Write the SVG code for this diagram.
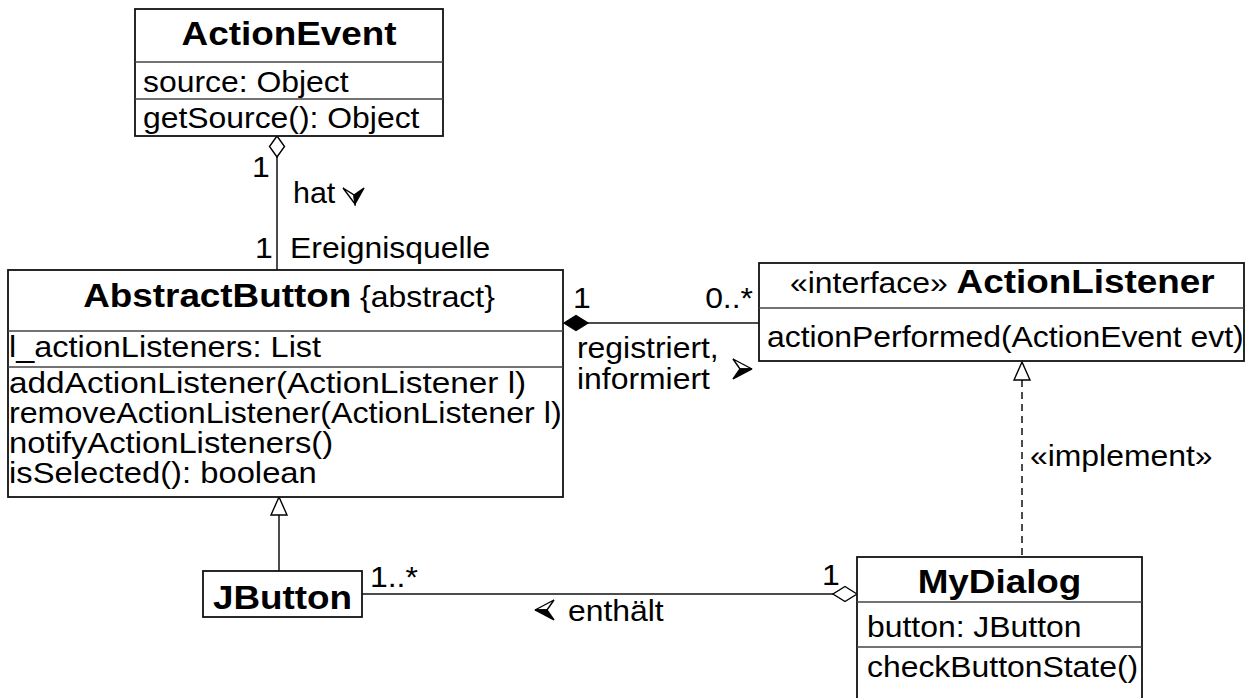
<svg xmlns="http://www.w3.org/2000/svg" width="1248" height="698" viewBox="0 0 1248 698">
<style>
.t { font-family: "Liberation Sans", Arial, Helvetica, sans-serif; font-size: 29px; fill: #000; }
.b { font-weight: bold; font-size: 33.5px; }
.box { fill: #fff; stroke: #111; stroke-width: 1.8; }
.div { stroke: #444; stroke-width: 1.6; fill: none; }
.ln { stroke: #111; stroke-width: 1.5; fill: none; }
.dash { stroke: #111; stroke-width: 1.5; fill: none; stroke-dasharray: 7 5; }
.hw { fill: #fff; stroke: #000; stroke-width: 1.4; stroke-linejoin: miter; }
.hb { fill: #000; stroke: #000; stroke-width: 1.4; stroke-linejoin: miter; }
</style>
<rect width="1248" height="698" fill="#fff"/>

<g id="connectors">
  <!-- ActionEvent - AbstractButton aggregation -->
  <line class="ln" x1="277" y1="157" x2="277" y2="270"/>
  <polygon class="hw" points="277,136 284.5,146.5 277,157 269.5,146.5"/>
  <text class="t" transform="translate(252,177) scale(1.1 1)">1</text>
  <text class="t" transform="translate(293,203) scale(1.05 1)">hat</text>
  <polygon class="hw" points="343,188 355,204 354,195"/>
  <polygon class="hb" points="354,195 355,204 364,188"/>
  <text class="t" transform="translate(255,258) scale(1.1 1)">1</text>
  <text class="t" transform="translate(290,258) scale(1.1 1)">Ereignisquelle</text>

  <!-- AbstractButton - ActionListener composition -->
  <line class="ln" x1="588" y1="323" x2="759" y2="323"/>
  <polygon class="hb" points="564,323 576,315.5 588,323 576,330.5"/>
  <text class="t" transform="translate(573,308) scale(1.1 1)">1</text>
  <text class="t" text-anchor="end" transform="translate(753,308) scale(1.1 1)">0..*</text>
  <text class="t" transform="translate(577,358) scale(1.1 1)">registriert,</text>
  <text class="t" transform="translate(577,389) scale(1.1 1)">informiert</text>
  <polygon class="hw" points="733,359 752,369 740,369"/>
  <polygon class="hb" points="740,369 752,369 733,379"/>

  <!-- Generalization JButton -> AbstractButton -->
  <line class="ln" x1="279" y1="515" x2="279" y2="571"/>
  <polygon class="hw" points="279,497 271,515 287,515"/>

  <!-- Realization MyDialog -> ActionListener -->
  <line class="dash" x1="1022" y1="380" x2="1022" y2="557"/>
  <polygon class="hw" points="1022,362 1014,380 1030,380"/>
  <text class="t" transform="translate(1030,466) scale(1.1 1)">«implement»</text>

  <!-- MyDialog - JButton aggregation -->
  <line class="ln" x1="362" y1="594" x2="833" y2="594"/>
  <polygon class="hw" points="857,594 845,586.5 833,594 845,601.5"/>
  <text class="t" transform="translate(370,587) scale(1.1 1)">1..*</text>
  <text class="t" transform="translate(822,585) scale(1.1 1)">1</text>
  <polygon class="hw" points="554,600 535,610 547,610"/>
  <polygon class="hb" points="547,610 535,610 554,620"/>
  <text class="t" transform="translate(568,621) scale(1.1 1)">enthält</text>
</g>

<g id="ActionEvent">
  <rect class="box" x="135" y="9" width="308" height="127"/>
  <line class="div" x1="135" y1="62" x2="443" y2="62"/>
  <line class="div" x1="135" y1="99" x2="443" y2="99"/>
  <text class="t b" text-anchor="middle" transform="translate(289,45) scale(1.1 1)">ActionEvent</text>
  <text class="t" transform="translate(143,92) scale(1.1 1)">source: Object</text>
  <text class="t" transform="translate(143,128) scale(1.1 1)">getSource(): Object</text>
</g>

<g id="AbstractButton">
  <rect class="box" x="8" y="270" width="555" height="227"/>
  <line class="div" x1="8" y1="331" x2="563" y2="331"/>
  <line class="div" x1="8" y1="367" x2="563" y2="367"/>
  <text class="t" text-anchor="middle" transform="translate(289,307) scale(1.1 1)"><tspan font-weight="bold" font-size="33.5">AbstractButton</tspan> {abstract}</text>
  <text class="t" transform="translate(9,357) scale(1.12 1)">l_actionListeners: List</text>
  <text class="t" transform="translate(9,393) scale(1.15 1)">addActionListener(ActionListener l)</text>
  <text class="t" transform="translate(9,423) scale(1.11 1)">removeActionListener(ActionListener l)</text>
  <text class="t" transform="translate(9,453) scale(1.13 1)">notifyActionListeners()</text>
  <text class="t" transform="translate(9,483) scale(1.13 1)">isSelected(): boolean</text>
</g>

<g id="ActionListener">
  <rect class="box" x="759" y="263" width="485" height="98"/>
  <line class="div" x1="759" y1="308" x2="1244" y2="308"/>
  <text class="t" transform="translate(790,293) scale(1.1 1)">«interface» <tspan font-weight="bold" font-size="33.5">ActionListener</tspan></text>
  <text class="t" transform="translate(767,347) scale(1.1 1)">actionPerformed(ActionEvent evt)</text>
</g>

<g id="JButton">
  <rect class="box" x="203" y="571" width="159" height="46"/>
  <text class="t b" text-anchor="middle" transform="translate(282.5,609) scale(1.1 1)">JButton</text>
</g>

<g id="MyDialog">
  <rect class="box" x="857" y="557" width="285" height="145"/>
  <line class="div" x1="857" y1="602" x2="1142" y2="602"/>
  <line class="div" x1="857" y1="647" x2="1142" y2="647"/>
  <text class="t b" text-anchor="middle" transform="translate(999.5,593) scale(1.1 1)">MyDialog</text>
  <text class="t" transform="translate(867,637) scale(1.1 1)">button: JButton</text>
  <text class="t" transform="translate(867,677) scale(1.1 1)">checkButtonState()</text>
</g>
</svg>
